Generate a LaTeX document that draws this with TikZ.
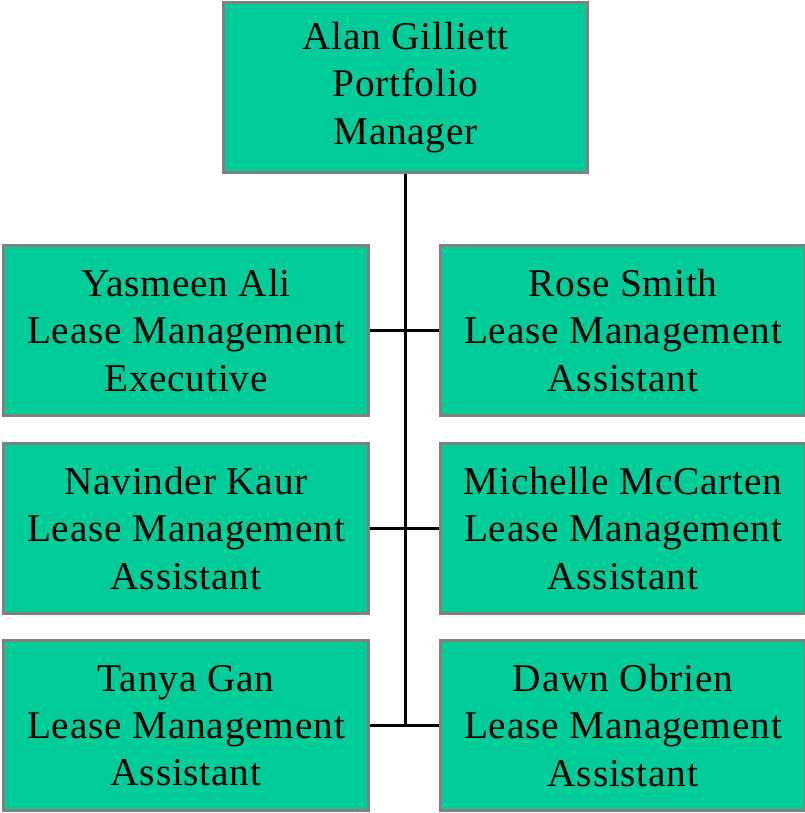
\documentclass[tikz,border=0pt]{standalone}
\usepackage{fontspec}
\setmainfont{Liberation Serif}[LetterSpace=2]
\usepackage{tikz}
\usetikzlibrary{positioning}
\definecolor{boxgreen}{HTML}{00CC99}
\definecolor{boxgray}{HTML}{808080}
\tikzset{
  staff/.style={draw=boxgray,line width=2.2pt,fill=boxgreen,align=center,
    minimum width=273.5pt,minimum height=128pt,inner sep=0pt,
    font=\fontsize{29.5}{35.5}\selectfont},
  link/.style={line width=2.2pt}
}

\begin{document}
\begin{tikzpicture}[x=.75pt,y=-.75pt]
\useasboundingbox (0,0) rectangle (805,813);
\node[staff] (alan) at (405.5,87.5) {Alan Gilliett\\Portfolio\\Manager};
\node[staff] (yasmeen) at (186,330.5) {Yasmeen Ali\\Lease Management\\Executive};
\node[staff] (rose) at (623,330.5) {Rose Smith\\Lease Management\\Assistant};
\node[staff] (navinder) at (186,528.5) {Navinder Kaur\\Lease Management\\Assistant};
\node[staff] (michelle) at (623,528.5) {Michelle McCarten\\Lease Management\\Assistant};
\node[staff] (tanya) at (186,725.5) {Tanya Gan\\Lease Management\\Assistant};
\node[staff] (dawn) at (623,725.5) {Dawn Obrien\\Lease Management\\Assistant};
\coordinate (trunk) at (405.5,725.5);
\draw[link] (alan.south) -- (trunk);
\draw[link] (yasmeen.east) -- (rose.west);
\draw[link] (navinder.east) -- (michelle.west);
\draw[link] (tanya.east) -- (dawn.west);
\end{tikzpicture}
\end{document}
